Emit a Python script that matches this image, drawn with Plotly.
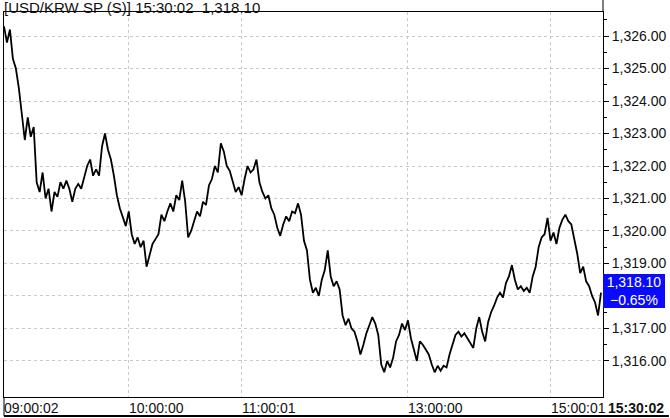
import plotly.graph_objects as go

# ---- data ----
prices = [
    1326.30, 1325.80, 1326.20, 1325.30, 1325.00, 1324.40, 1323.60, 1322.80, 1323.50, 1322.90,
    1323.20, 1321.50, 1321.20, 1321.80, 1321.00, 1321.30, 1320.60, 1321.20, 1321.05, 1321.50,
    1321.30, 1321.55, 1321.30, 1320.90, 1321.30, 1321.45, 1321.30, 1321.70, 1322.00, 1322.20,
    1321.70, 1321.90, 1321.70, 1322.60, 1323.00, 1322.50, 1322.20, 1321.70, 1321.10, 1320.70,
    1320.40, 1320.15, 1320.60, 1319.90, 1319.60, 1319.80, 1319.50, 1319.70, 1318.90, 1319.30,
    1319.60, 1319.75, 1319.90, 1320.50, 1320.30, 1320.60, 1320.85, 1320.60, 1321.10, 1320.95,
    1321.55, 1320.90, 1319.80, 1320.00, 1320.30, 1320.60, 1320.45, 1320.90, 1320.80, 1321.40,
    1321.60, 1322.00, 1321.80, 1322.70, 1322.45, 1322.00, 1321.85, 1321.50, 1321.20, 1321.35,
    1321.10, 1321.60, 1322.00, 1321.80, 1321.90, 1322.20, 1321.50, 1321.20, 1321.00, 1321.10,
    1320.70, 1320.50, 1320.10, 1319.85, 1320.20, 1320.45, 1320.30, 1320.60, 1320.55, 1320.85,
    1320.50, 1319.70, 1319.40, 1318.50, 1318.10, 1318.25, 1318.00, 1318.50, 1318.80, 1319.40,
    1318.60, 1318.30, 1318.45, 1318.20, 1317.40, 1317.10, 1317.30, 1317.00, 1316.90, 1316.60,
    1316.20, 1316.50, 1316.85, 1317.10, 1317.35, 1317.15, 1316.80, 1315.90, 1315.65, 1316.00,
    1315.80, 1316.10, 1316.60, 1316.80, 1317.15, 1316.95, 1317.25, 1316.70, 1316.30, 1316.00,
    1316.60, 1316.50, 1316.35, 1316.20, 1315.90, 1315.65, 1315.85, 1315.70, 1315.85, 1315.80,
    1316.20, 1316.50, 1316.80, 1316.90, 1316.75, 1316.85, 1316.70, 1316.55, 1316.40, 1317.00,
    1317.35, 1316.90, 1316.60, 1317.20, 1317.50, 1317.70, 1317.95, 1318.10, 1317.95, 1318.40,
    1318.60, 1318.95, 1318.50, 1318.20, 1318.30, 1318.15, 1318.25, 1318.10, 1318.60, 1318.90,
    1319.50, 1319.80, 1319.90, 1320.40, 1319.70, 1319.95, 1319.60, 1320.10, 1320.35, 1320.50,
    1320.30, 1320.20, 1319.80, 1319.30, 1318.70, 1318.90, 1318.45, 1318.30, 1318.00, 1317.80,
    1317.40, 1318.10,
]
tick_index = list(range(len(prices)))

time_labels = ["09:00:02", "10:00:00", "11:00:01", "13:00:00", "15:00:01"]
time_label_index = [0, 42, 80, 136, 184]

price_ticks = [1316, 1317, 1318, 1319, 1320, 1321, 1322, 1323, 1324, 1325, 1326]

title_text = "[USD/KRW SP (S)]"
last_time = "15:30:02"
change_pct = -0.65
y_range = [1314.89, 1326.74]

FONT = "Liberation Sans, Arial, sans-serif"
last_price = prices[-1]

# label hidden behind the last-value box (as in the reference)
price_ticktext = ["" if round(last_price) == v else f"{v:,.2f}" for v in price_ticks]

fig = go.Figure()
fig.add_trace(go.Scatter(
    x=tick_index, y=prices, mode="lines",
    line=dict(color="#000000", width=1.8),
    hoverinfo="skip", showlegend=False,
))

annotations = []
for lbl, idx in zip(time_labels, time_label_index):
    annotations.append(dict(
        x=idx, xref="x", y=0, yref="paper", yanchor="top", xanchor="left",
        yshift=-1, xshift=-2, text=lbl, showarrow=False,
        font=dict(family=FONT, size=14, color="#111111"),
    ))
# title
annotations.append(dict(
    x=0, xref="paper", y=1.0, yref="paper", xanchor="left", yanchor="bottom",
    yshift=-6, xshift=-2,
    text=f"{title_text} {last_time}  {last_price:,.2f}", showarrow=False,
    font=dict(family=FONT, size=15, color="#111111"),
))
# last value box
annotations.append(dict(
    x=1.0, xref="paper", y=last_price, yref="y", xanchor="left", yanchor="middle",
    text=f"{last_price:,.2f}<br>\u2212{abs(change_pct):.2f}%", showarrow=False,
    bgcolor="#0a0aff", font=dict(family=FONT, size=14, color="#ffffff"),
    width=60, height=32, align="center", borderpad=0, borderwidth=1,
    bordercolor="#0a0aff", yshift=2,
))
# last time bold
annotations.append(dict(
    x=1.0, xref="paper", y=0, yref="paper", xanchor="left", yanchor="top",
    xshift=3, yshift=-1, text=f"<b>{last_time}</b>", showarrow=False,
    font=dict(family=FONT, size=14, color="#111111"),
))

shapes = [
    dict(type="line", xref="paper", yref="paper", x0=0, x1=1.11, y0=-0.0494, y1=-0.0494,
         line=dict(color="#000000", width=2)),
    dict(type="line", xref="paper", yref="paper", x0=0, x1=0, y0=0, y1=-0.0494,
         line=dict(color="#000000", width=1)),
    dict(type="line", xref="paper", yref="paper", x0=1, x1=1, y0=1, y1=1.04,
         line=dict(color="#000000", width=1)),
]

fig.update_layout(
    width=670, height=418,
    margin=dict(l=3, r=62, t=12, b=21, pad=0),
    paper_bgcolor="#ffffff", plot_bgcolor="#ffffff",
    font=dict(family=FONT, size=14, color="#111111"),
    showlegend=False,
    annotations=annotations,
    shapes=shapes,
    xaxis=dict(
        range=[0, 201.67], tickvals=time_label_index, showticklabels=False,
        showgrid=True, gridcolor="#c8c8c8", griddash="3px,3px", gridwidth=1,
        showline=True, linecolor="#000000", linewidth=1, mirror=True,
        zeroline=False, ticks="",
    ),
    yaxis=dict(
        range=y_range, side="right", tickvals=price_ticks, ticktext=price_ticktext,
        showgrid=True, gridcolor="#c8c8c8", griddash="3px,3px", gridwidth=1,
        showline=True, linecolor="#000000", linewidth=1, mirror=True,
        zeroline=False, ticks="outside", ticklen=5, tickcolor="#000000",
        tickfont=dict(family=FONT, size=14, color="#111111"),
        minor=dict(tickvals=[v + 0.5 for v in price_ticks], ticks="outside", ticklen=3,
                   tickcolor="#000000", showgrid=False),
    ),
)

fig.write_html(
    "out.html",
    config={"displayModeBar": False},
    post_script="document.body.style.margin='0';document.body.style.overflow='hidden';",
)
